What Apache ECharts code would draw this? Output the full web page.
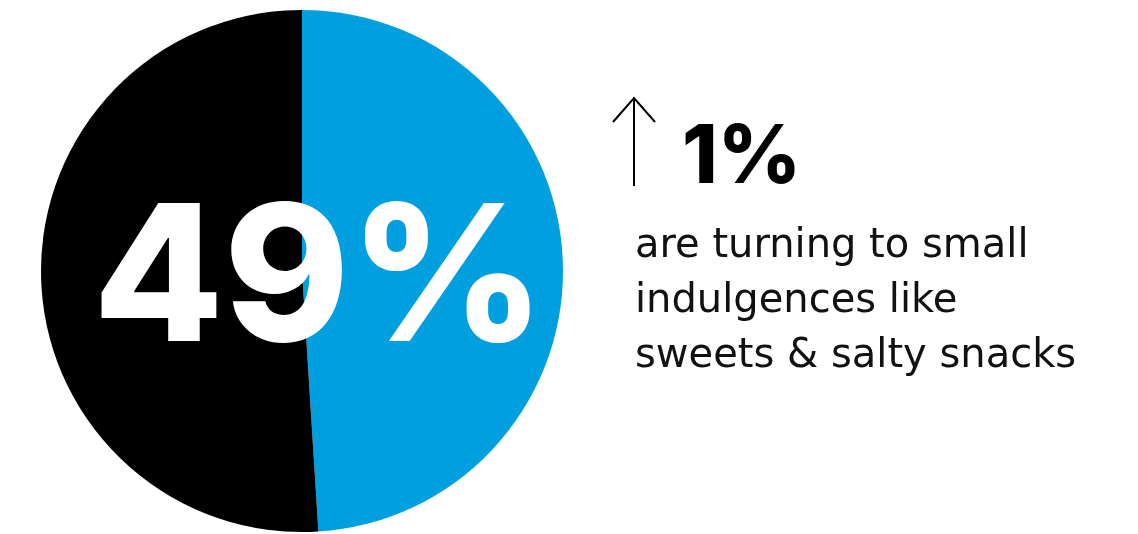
<!DOCTYPE html>
<html>
<head>
<meta charset="utf-8">
<script src="https://cdn.jsdelivr.net/npm/echarts@6/dist/echarts.min.js"></script>
<style>
  html, body { margin: 0; padding: 0; background: #ffffff; }
  #chart { width: 1138px; height: 534px; }
</style>
</head>
<body>
<div id="chart"></div>
<script>
// Share of shoppers turning to small indulgences vs. everyone else
const sliceNames = ['Small indulgences', 'Other'];
const sliceValues = [49, 51];
const sliceColors = ['#009fe0', '#000000'];

// Year-over-year change shown beside the pie
const changeValue = 1;
const captionLines = ['are turning to small', 'indulgences like', 'sweets & salty snacks'];

const chart = echarts.init(document.getElementById('chart'), null, { renderer: 'canvas' });

const headline = sliceValues[0] + '%';

chart.setOption({
  backgroundColor: '#ffffff',
  animation: false,
  title: [
    {
      text: headline,
      left: 314,
      top: 279,
      textAlign: 'center',
      textVerticalAlign: 'middle',
      textStyle: {
        color: '#ffffff',
        fontFamily: 'Inter',
        fontWeight: 800,
        fontSize: 190
      }
    },
    {
      text: changeValue + '%',
      left: 677,
      top: 113,
      textStyle: {
        color: '#000000',
        fontFamily: 'Inter',
        fontWeight: 800,
        fontSize: 81
      }
    },
    {
      text: captionLines.join('\n'),
      left: 630,
      top: 214,
      textStyle: {
        color: '#111111',
        fontFamily: 'DejaVu Sans',
        fontWeight: 'normal',
        fontSize: 40,
        lineHeight: 55
      }
    }
  ],
  graphic: [
    {
      type: 'polyline',
      shape: { points: [[634, 186], [634, 98]] },
      style: { stroke: '#000000', lineWidth: 2, fill: null }
    },
    {
      type: 'polyline',
      shape: { points: [[613, 122], [634, 98], [655, 122]] },
      style: { stroke: '#000000', lineWidth: 2, fill: null }
    }
  ],
  series: [
    {
      type: 'pie',
      center: [302, 271],
      radius: 261,
      startAngle: 90,
      clockwise: true,
      label: { show: false },
      labelLine: { show: false },
      emphasis: { disabled: true },
      data: sliceNames.map((name, i) => ({
        name: name,
        value: sliceValues[i],
        itemStyle: { color: sliceColors[i] }
      }))
    }
  ]
});
</script>
</body>
</html>
